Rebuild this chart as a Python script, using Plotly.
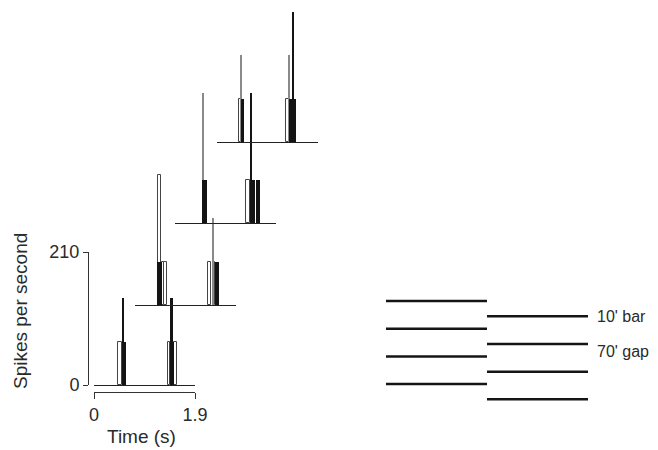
import plotly.graph_objects as go

# ---------------- data ----------------
orientations = ["0 deg", "45 deg", "90 deg", "135 deg"]

# histogram bins per orientation: (bin start s, bin end s, spikes per second)
deg0_open = [(0.457, 0.532, 68), (1.383, 1.430, 68), (1.505, 1.552, 68)]
deg0_faint = []
deg0_solid = [(0.540, 0.602, 68), (0.532, 0.555, 137), (1.449, 1.505, 68), (1.430, 1.477, 137)]

deg45_open = [(0.425, 0.480, 205), (0.502, 0.546, 68), (0.546, 0.596, 68),
              (1.379, 1.430, 68), (1.477, 1.505, 68)]
deg45_faint = [(1.449, 1.477, 137)]
deg45_solid = [(0.408, 0.502, 68), (1.505, 1.580, 68)]

deg90_open = [(1.336, 1.411, 68)]
deg90_faint = [(0.514, 0.540, 205)]
deg90_solid = [(0.502, 0.608, 68), (1.411, 1.449, 205), (1.449, 1.514, 68), (1.533, 1.590, 68)]

deg135_open = [(0.420, 0.457, 68), (1.307, 1.345, 68)]
deg135_faint = [(0.451, 0.476, 137), (1.349, 1.379, 137)]
deg135_solid = [(0.457, 0.508, 68), (1.345, 1.486, 68), (1.411, 1.443, 205)]

open_bins = [deg0_open, deg45_open, deg90_open, deg135_open]
faint_bins = [deg0_faint, deg45_faint, deg90_faint, deg135_faint]
solid_bins = [deg0_solid, deg45_solid, deg90_solid, deg135_solid]

time_ticks = [0, 1.9]
rate_ticks = [0, 210]

# stimulus diagram: bar centres in arcmin (10' bars, 70' gaps)
bars_left_arcmin = [0, 80, 160, 240]
bars_right_arcmin = [44, 124, 204, 284]
stim_labels = ["10' bar", "70' gap"]
stim_label_arcmin = [46, 145]

# ---------------- layout constants ----------------
# the page body has an 8 px margin, so the figure is drawn 8 px in from the
# window's top-left corner; positions below are window pixels.
OFF = 8
WIN_W, WIN_H = 658, 450
W, H = WIN_W - 2 * OFF, WIN_H - OFF


def px_x(p):
    return (p - OFF) / W


def px_y(p):
    return (OFF + H - p) / H


panel_left_px = [94, 135, 175, 217]
panel_base_px = [385, 305, 223, 142]
PANEL_W = 101
PANEL_H = 133
TEXT = "#2a2a2a"
FONT = "Liberation Sans, Arial, sans-serif"

fig = go.Figure()


def ax(i, letter):
    return letter if i == 0 else f"{letter}{i + 1}"


def add_bins(bins, k, fill, line_color, line_w):
    if not bins:
        return
    fig.add_trace(go.Bar(
        x=[(a + b) / 2 for a, b, _ in bins],
        y=[r for _, _, r in bins],
        width=[b - a for a, b, _ in bins],
        base=0,
        marker=dict(color=fill, line=dict(color=line_color, width=line_w)),
        xaxis=ax(k, "x"), yaxis=ax(k, "y"),
        showlegend=False, hoverinfo="skip",
    ))


for k in range(4):
    add_bins(open_bins[k], k, "white", "#444", 1)
    add_bins(faint_bins[k], k, "#8a8a8a", "#8a8a8a", 0)
    add_bins(solid_bins[k], k, "#141414", "#141414", 0)

# helper trace so the time-scale axis is drawn
fig.add_trace(go.Scatter(x=time_ticks, y=[0, 0], xaxis="x5", yaxis="y",
                         mode="lines", line=dict(width=0), showlegend=False,
                         hoverinfo="skip"))

# stimulus diagram
lx, ly = [], []
for v in bars_left_arcmin:
    lx += [0, 1, None]
    ly += [v, v, None]
for v in bars_right_arcmin:
    lx += [1, 2, None]
    ly += [v, v, None]
fig.add_trace(go.Scatter(x=lx, y=ly, xaxis="x6", yaxis="y6", mode="lines",
                         line=dict(color="#151515", width=2.5),
                         showlegend=False, hoverinfo="skip"))

layout = dict(
    width=W, height=H,
    margin=dict(l=0, r=0, t=0, b=0, pad=0, autoexpand=False),
    paper_bgcolor="white", plot_bgcolor="rgba(0,0,0,0)",
    barmode="overlay", bargap=0,
    font=dict(family=FONT, size=18, color=TEXT),
    showlegend=False,
)

for k in range(4):
    xa = dict(domain=[px_x(panel_left_px[k]), px_x(panel_left_px[k] + PANEL_W)],
              range=[0, 1.9], anchor=ax(k, "y"),
              showline=True, linecolor="#222", linewidth=1,
              showticklabels=False, ticks="", showgrid=False, zeroline=False,
              fixedrange=True, automargin=False)
    ya = dict(domain=[px_y(panel_base_px[k]), px_y(panel_base_px[k] - PANEL_H)],
              range=[0, 210], anchor=ax(k, "x"),
              showgrid=False, zeroline=False, fixedrange=True, automargin=False)
    if k == 0:
        ya.update(anchor="free", position=px_x(88), showline=True,
                  linecolor="#333", linewidth=1, ticks="outside", ticklen=5,
                  tickcolor="#333", tickvals=rate_ticks,
                  ticktext=[str(v) for v in rate_ticks],
                  tickfont=dict(size=18, color=TEXT))
    else:
        ya.update(visible=False)
    layout["xaxis" if k == 0 else f"xaxis{k + 1}"] = xa
    layout["yaxis" if k == 0 else f"yaxis{k + 1}"] = ya

layout["xaxis5"] = dict(domain=[px_x(panel_left_px[0]), px_x(panel_left_px[0] + PANEL_W)],
                        range=[0, 1.9], anchor="free", position=px_y(392),
                        side="bottom", showline=True, linecolor="#333", linewidth=1,
                        ticks="outside", ticklen=6, tickcolor="#333",
                        tickvals=time_ticks, ticktext=["0", "1.9"],
                        tickfont=dict(size=18, color=TEXT),
                        showgrid=False, zeroline=False, fixedrange=True,
                        automargin=False)

ARC_PX = 27.7 / 80.0
top_arc, bot_arc = -40, 320
layout["xaxis6"] = dict(domain=[px_x(386), px_x(588)], range=[0, 2], anchor="y6",
                        visible=False, fixedrange=True, automargin=False)
layout["yaxis6"] = dict(domain=[px_y(301 + bot_arc * ARC_PX), px_y(301 + top_arc * ARC_PX)],
                        range=[bot_arc, top_arc], anchor="x6",
                        visible=False, fixedrange=True, automargin=False)

annotations = []
for k, name in enumerate(orientations):
    annotations.append(dict(text=name, x=2.37, y=-4, xref=ax(k, "x"), yref=ax(k, "y"),
                            xanchor="left", yanchor="middle", showarrow=False,
                            font=dict(size=18, color=TEXT)))
for txt, v in zip(stim_labels, stim_label_arcmin):
    annotations.append(dict(text=txt, x=px_x(595), xref="paper", y=v, yref="y6",
                            xanchor="left", yanchor="middle", showarrow=False,
                            font=dict(size=16, color=TEXT)))
annotations.append(dict(text="Spikes per second", x=px_x(20), y=px_y(311),
                        xref="paper", yref="paper", textangle=-90,
                        xanchor="center", yanchor="middle", showarrow=False,
                        font=dict(size=19, color=TEXT)))
annotations.append(dict(text="Time (s)", x=px_x(141), y=px_y(436),
                        xref="paper", yref="paper", xanchor="center",
                        yanchor="middle", showarrow=False,
                        font=dict(size=19, color=TEXT)))
layout["annotations"] = annotations

fig.update_layout(**layout)
fig.write_html("out.html")
